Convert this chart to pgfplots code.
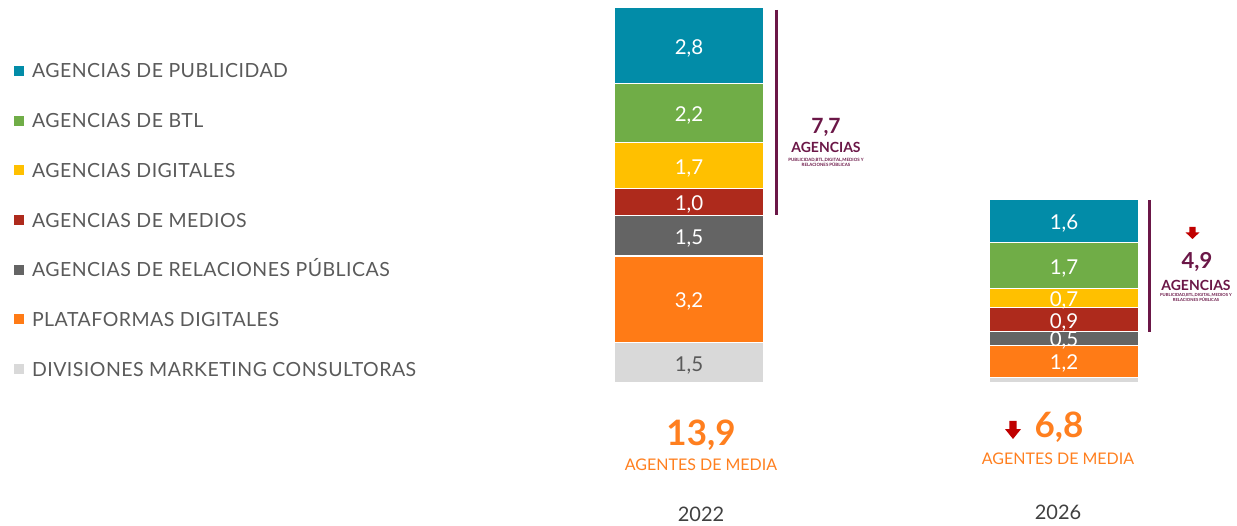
\documentclass[border=0pt]{standalone}
\usepackage{pgfplots}
\pgfplotsset{compat=1.18}
\usepackage{fontspec}
\setmainfont{Lato}
\newfontfamily\legfont{Lato}[LetterSpace=2.5]
\definecolor{cteal}{HTML}{028CA8}
\definecolor{cgreen}{HTML}{70AD47}
\definecolor{cyellow}{HTML}{FFC000}
\definecolor{cred}{HTML}{AE2A1C}
\definecolor{cdgrey}{HTML}{646464}
\definecolor{corange}{HTML}{FF7B16}
\definecolor{clight}{HTML}{D9D9D9}
\definecolor{ctext}{HTML}{5A5A5A}
\definecolor{cyear}{HTML}{404040}
\definecolor{cmaroon}{HTML}{6B1747}
\definecolor{corangetxt}{HTML}{FF7F1F}
\definecolor{carrow}{HTML}{C00000}
\newcommand\downarr[4]{%
  \fill[carrow] (#1-0.22*#3,#2) -- (#1+0.22*#3,#2) -- (#1+0.22*#3,#2-0.45*#4) -- (#1+0.5*#3,#2-0.45*#4) -- (#1,#2-#4) -- (#1-0.5*#3,#2-0.45*#4) -- (#1-0.22*#3,#2-0.45*#4) -- cycle;}
\begin{document}
\begin{tikzpicture}[x=1pt,y=1pt]
\useasboundingbox (0,0) rectangle (1237,526);
\begin{axis}[
  at={(0,0)}, anchor=south west, scale only axis,
  width=1237pt, height=526pt,
  xmin=-1.837333, xmax=1.461333, ymin=-5.296296, ymax=14.185185,
  hide axis, clip=false,
  ybar stacked, bar width=0.4,
  point meta=explicit symbolic,
  nodes near coords={\pgfplotspointmeta},
  nodes near coords style={anchor=center, inner sep=0pt, text=white,
     font=\fontsize{20.5}{20.5}\selectfont, yshift=-2.5pt},
  every axis plot/.append style={draw=white, line width=1.3pt},
  reverse legend,
  legend image code/.code={\fill[#1, draw=none] (0pt,-5pt) rectangle (10pt,5pt);},
  legend style={draw=none, fill=none, inner sep=0pt, outer sep=0pt,
     at={(0.01132,0.87833)}, anchor=north west,
     row sep=35.67pt, font=\legfont\fontsize{19.5}{19.5}\selectfont, text=ctext,
     nodes={inner sep=0pt, text height=14pt, text depth=0pt},
     /tikz/every odd column/.append style={column sep=8pt}},
  legend cell align=left,
]
\addplot[fill=clight, nodes near coords style={text=ctext}] coordinates {(0,1.5) [1,5] (1,0.2) [{}]};
\addlegendentry{DIVISIONES MARKETING CONSULTORAS}
\addplot[fill=corange] coordinates {(0,3.2) [3,2] (1,1.2) [1,2]};
\addlegendentry{PLATAFORMAS DIGITALES}
\addplot[fill=cdgrey] coordinates {(0,1.5) [1,5] (1,0.5) [0,5]};
\addlegendentry{AGENCIAS DE RELACIONES PÚBLICAS}
\addplot[fill=cred] coordinates {(0,1.0) [1,0] (1,0.9) [0,9]};
\addlegendentry{AGENCIAS DE MEDIOS}
\addplot[fill=cyellow] coordinates {(0,1.7) [1,7] (1,0.7) [0,7]};
\addlegendentry{AGENCIAS DIGITALES}
\addplot[fill=cgreen] coordinates {(0,2.2) [2,2] (1,1.7) [1,7]};
\addlegendentry{AGENCIAS DE BTL}
\addplot[fill=cteal] coordinates {(0,2.8) [2,8] (1,1.6) [1,6]};
\addlegendentry{AGENCIAS DE PUBLICIDAD}
\end{axis}
% 2022 annotations
\node[anchor=base, inner sep=0, text=corangetxt, font=\fontsize{35}{35}\selectfont\bfseries] at (701,80) {13,9};
\node[anchor=base, inner sep=0, text=corangetxt, font=\fontsize{16}{16}\selectfont] at (701,55) {AGENTES DE MEDIA};
\node[anchor=base, inner sep=0, text=cyear, font=\fontsize{20}{20}\selectfont] at (701,4) {2022};
% 2026 annotations
\downarr{1013}{105}{16}{18}
\node[anchor=base, inner sep=0, text=corangetxt, font=\fontsize{35}{35}\selectfont\bfseries] at (1059,88) {6,8};
\node[anchor=base, inner sep=0, text=corangetxt, font=\fontsize{16}{16}\selectfont] at (1058,61) {AGENTES DE MEDIA};
\node[anchor=base, inner sep=0, text=cyear, font=\fontsize{20}{20}\selectfont] at (1058,6) {2026};
% agencias brackets
\draw[cmaroon, line width=3pt] (776,516) -- (776,311);
\node[anchor=base, inner sep=0, text=cmaroon, font=\fontsize{21}{21}\selectfont\bfseries] at (826,392) {7,7};
\node[anchor=base, inner sep=0, text=cmaroon, font=\fontsize{14}{14}\selectfont\bfseries] at (826,373) {AGENCIAS};
\node[anchor=base, inner sep=0, text=cmaroon, font=\fontsize{4.4}{4.4}\selectfont\bfseries] at (826,364.5) {PUBLICIDAD,BTL,DIGITAL,MEDIOS Y};
\node[anchor=base, inner sep=0, text=cmaroon, font=\fontsize{4.4}{4.4}\selectfont\bfseries] at (826,359.5) {RELACIONES PÚBLICAS};
\draw[cmaroon, line width=3pt] (1149,326) -- (1149,194);
\downarr{1192.5}{299}{14}{12}
\node[anchor=base, inner sep=0, text=cmaroon, font=\fontsize{22}{22}\selectfont\bfseries] at (1197,257) {4,9};
\node[anchor=base, inner sep=0, text=cmaroon, font=\fontsize{14}{14}\selectfont\bfseries] at (1196,235) {AGENCIAS};
\node[anchor=base, inner sep=0, text=cmaroon, font=\fontsize{4.2}{4.2}\selectfont\bfseries] at (1196,229) {PUBLICIDAD,BTL,DIGITAL,MEDIOS Y};
\node[anchor=base, inner sep=0, text=cmaroon, font=\fontsize{4.2}{4.2}\selectfont\bfseries] at (1196,224) {RELACIONES PÚBLICAS};
\end{tikzpicture}
\end{document}
